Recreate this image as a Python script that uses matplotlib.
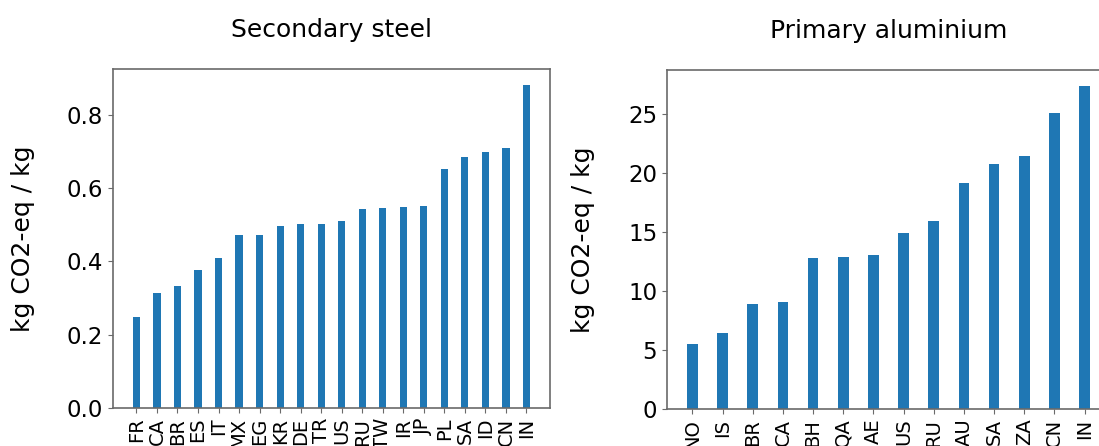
import matplotlib
matplotlib.use("Agg")
import matplotlib.pyplot as plt

# Emission intensities (kg CO2-eq per kg of product) by country
steel_countries = ["FR", "CA", "BR", "ES", "IT", "MX", "EG", "KR", "DE", "TR",
                   "US", "RU", "TW", "IR", "JP", "PL", "SA", "ID", "CN", "IN"]
steel_values = [0.249, 0.315, 0.333, 0.377, 0.410, 0.472, 0.472, 0.498, 0.501, 0.502,
                0.510, 0.543, 0.545, 0.549, 0.552, 0.651, 0.685, 0.700, 0.710, 0.881]

alu_countries = ["NO", "IS", "BR", "CA", "BH", "QA", "AE", "US", "RU", "AU",
                 "SA", "ZA", "CN", "IN"]
alu_values = [5.51, 6.44, 8.93, 9.07, 12.82, 12.91, 13.08, 14.92, 15.99, 19.15,
              20.76, 21.44, 25.08, 27.40]

BAR_COLOR = "#1f77b4"
SPINE_COLOR = "#6a6a6a"

fig = plt.figure(figsize=(10.99, 4.46), dpi=100)
ax1 = fig.add_axes([0.1028, 0.0852, 0.3976, 0.760])
ax2 = fig.add_axes([0.6069, 0.0830, 0.4031, 0.760])


def draw(ax, labels, values, title, label_x, yticks, yticklabels):
    xs = list(range(len(values)))
    ax.bar(xs, values, width=0.35, color=BAR_COLOR)
    ax.set_xticks(xs)
    ax.set_xticklabels(labels, rotation=90, fontsize=14)
    ax.set_yticks(yticks)
    ax.set_yticklabels(yticklabels)
    ax.tick_params(axis="y", labelsize=16.5, color=SPINE_COLOR)
    ax.tick_params(axis="x", color=SPINE_COLOR)
    ax.set_title(title, fontsize=18, pad=23)
    ax.set_ylabel("kg CO2-eq / kg", fontsize=18)
    ax.yaxis.set_label_coords(label_x, 0.5)
    for s in ax.spines.values():
        s.set_color(SPINE_COLOR)
        s.set_linewidth(1.2)


draw(ax1, steel_countries, steel_values, "Secondary steel", -0.1785,
     [0.0, 0.2, 0.4, 0.6, 0.8], ["0.0", "0.2", "0.4", "0.6", "0.8"])
draw(ax2, alu_countries, alu_values, "Primary aluminium", -0.1625,
     [0, 5, 10, 15, 20, 25], ["0", "5", "10", "15", "20", "25"])

fig.savefig("out.png", dpi=100)
